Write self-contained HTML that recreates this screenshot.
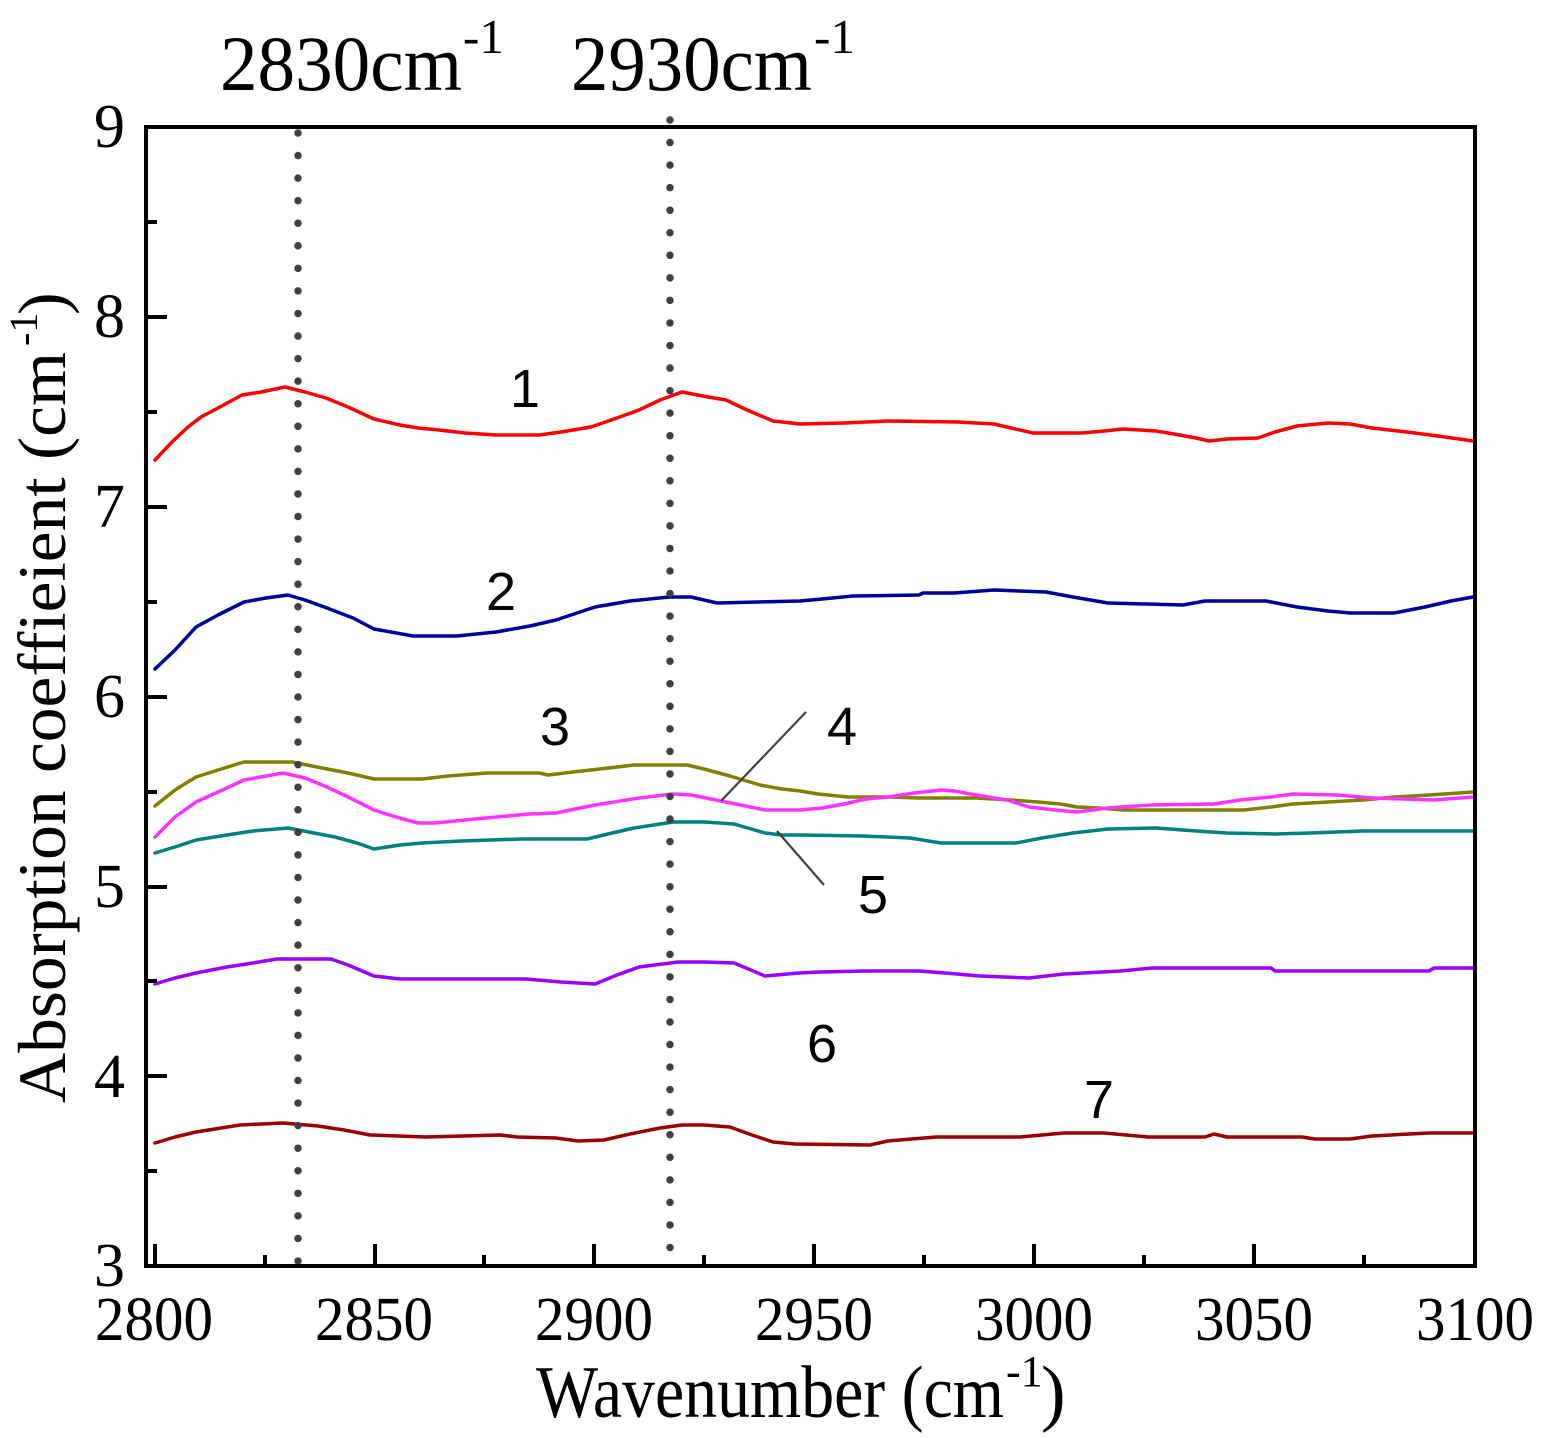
<!DOCTYPE html>
<html>
<head>
<meta charset="utf-8">
<style>
  html, body { margin: 0; padding: 0; background: #ffffff; }
  svg { display: block; }
  .serif { font-family: "Liberation Serif", "Times New Roman", serif; fill: #000; }
  .sans { font-family: "Liberation Sans", Arial, sans-serif; fill: #000; }
  .curve { fill: none; stroke-width: 3.5; stroke-linejoin: round; stroke-linecap: round; }
</style>
</head>
<body>
<svg width="1541" height="1438" viewBox="0 0 1541 1438" xmlns="http://www.w3.org/2000/svg">
  <rect x="0" y="0" width="1541" height="1438" fill="#ffffff"/>

  <!-- Title annotations -->
  <text class="serif" x="220" y="90" font-size="78" textLength="242" lengthAdjust="spacingAndGlyphs">2830cm</text>
  <text class="serif" x="463" y="53" font-size="49">-1</text>
  <text class="serif" x="571" y="90" font-size="78" textLength="241" lengthAdjust="spacingAndGlyphs">2930cm</text>
  <text class="serif" x="814" y="53" font-size="49">-1</text>

  <!-- Curves -->
  <polyline class="curve" stroke="#ff0000" points="155,460 172,442 188,427 201,417 218,408 242,395 261,392 285,387 305,392 326,398 348,407 374,419 400,425 418,428 439,430 465,433 496,435 539,435 561,432 591,427 617,418 639,410 660,400 682,392 708,397 726,400 747,410 773,421 800,424 844,423 888,421 958,422 994,424 1011,428 1033,433 1068,433 1082,433 1104,431 1123,429 1156,431 1174,434 1196,438 1209,441 1227,439 1258,438 1275,432 1297,426 1328,423 1350,424 1372,428 1407,432 1438,436 1473,441"/>
  <polyline class="curve" stroke="#000099" points="155,669 175,650 196,627 218,615 244,602 266,598 288,595 305,600 327,608 353,618 374,629 413,636 457,636 496,632 530,626 556,620 595,607 630,601 669,597 691,597 717,603 800,601 822,599 853,596 919,595 923,593 954,593 994,590 1046,592 1073,597 1108,603 1183,605 1205,601 1266,601 1297,607 1328,611 1350,613 1394,613 1425,607 1451,601 1473,597"/>
  <polyline class="curve" stroke="#808000" points="155,806 175,790 196,777 218,770 244,762 292,762 322,768 348,773 374,779 422,779 448,776 487,773 539,773 548,775 582,771 617,767 634,765 687,765 704,769 730,776 760,785 782,789 800,791 818,794 848,797 888,797 919,798 976,798 1011,800 1038,802 1060,804 1077,807 1099,808 1123,810 1244,810 1271,807 1293,804 1328,802 1363,800 1394,797 1429,795 1473,792"/>
  <polyline class="curve" stroke="#ff33ff" points="155,837 175,817 196,802 218,792 244,780 283,773 305,778 327,787 348,797 374,810 396,817 418,823 435,823 465,820 496,817 530,814 556,813 595,805 639,798 673,794 691,795 721,801 765,810 800,810 822,808 844,804 866,799 888,797 914,793 941,790 954,791 976,795 1007,800 1029,807 1055,810 1077,812 1108,808 1152,805 1214,804 1240,800 1271,797 1293,794 1337,795 1372,798 1434,800 1473,797"/>
  <polyline class="curve" stroke="#008080" points="155,853 175,847 196,840 227,835 253,831 288,828 314,833 335,837 357,843 374,849 400,845 422,843 461,841 522,839 587,839 608,834 634,828 673,822 704,822 734,824 765,833 782,835 800,835 862,836 910,838 941,843 1016,843 1042,838 1073,833 1108,829 1156,828 1196,831 1227,833 1275,834 1310,833 1363,831 1473,831"/>
  <polyline class="curve" stroke="#9900ff" points="155,984 175,978 196,973 227,967 253,963 277,959 331,959 348,965 374,976 400,979 526,979 561,982 595,984 617,975 639,967 678,962 704,962 734,963 765,976 799,973 820,972 866,971 919,971 945,973 980,976 1029,978 1064,974 1121,971 1152,968 1271,968 1275,971 1429,971 1434,968 1473,968"/>
  <polyline class="curve" stroke="#990000" points="155,1143 175,1137 196,1132 240,1125 283,1123 318,1126 344,1130 370,1135 426,1137 500,1135 517,1137 556,1138 578,1141 604,1140 630,1134 660,1128 682,1125 704,1125 730,1127 752,1135 773,1142 795,1144 870,1145 888,1141 936,1137 1020,1137 1064,1133 1104,1133 1148,1137 1205,1137 1214,1134 1227,1137 1302,1137 1315,1139 1350,1139 1372,1136 1429,1133 1473,1133"/>

  <!-- Dotted reference lines -->
  <line x1="298" y1="133" x2="298" y2="1262" stroke="#404040" stroke-width="7.5" stroke-linecap="round" stroke-dasharray="0 22.56"/>
  <line x1="670" y1="120" x2="670" y2="1250" stroke="#404040" stroke-width="7.5" stroke-linecap="round" stroke-dasharray="0 22.55"/>

  <!-- Leader lines -->
  <line x1="721" y1="801" x2="806" y2="712" stroke="#404040" stroke-width="2.2"/>
  <line x1="777" y1="831" x2="824" y2="885" stroke="#404040" stroke-width="2.2"/>

  <!-- Curve labels -->
  <text class="sans" x="525" y="407" font-size="54" text-anchor="middle">1</text>
  <text class="sans" x="501" y="610" font-size="54" text-anchor="middle">2</text>
  <text class="sans" x="555" y="745" font-size="54" text-anchor="middle">3</text>
  <text class="sans" x="842" y="745" font-size="54" text-anchor="middle">4</text>
  <text class="sans" x="873" y="913" font-size="54" text-anchor="middle">5</text>
  <text class="sans" x="822" y="1062" font-size="54" text-anchor="middle">6</text>
  <text class="sans" x="1099" y="1118" font-size="54" text-anchor="middle">7</text>

  <!-- Axes frame -->
  <rect x="146" y="127" width="1329" height="1139" fill="none" stroke="#000" stroke-width="4"/>

  <!-- Y ticks (major integer, minor half) -->
  <g stroke="#000" stroke-width="4">
    <line x1="146" y1="1266" x2="167" y2="1266"/>
    <line x1="146" y1="1171" x2="157" y2="1171"/>
    <line x1="146" y1="1076" x2="167" y2="1076"/>
    <line x1="146" y1="981" x2="157" y2="981"/>
    <line x1="146" y1="887" x2="167" y2="887"/>
    <line x1="146" y1="792" x2="157" y2="792"/>
    <line x1="146" y1="697" x2="167" y2="697"/>
    <line x1="146" y1="602" x2="157" y2="602"/>
    <line x1="146" y1="507" x2="167" y2="507"/>
    <line x1="146" y1="412" x2="157" y2="412"/>
    <line x1="146" y1="317" x2="167" y2="317"/>
    <line x1="146" y1="222" x2="157" y2="222"/>
  </g>

  <!-- X ticks -->
  <g stroke="#000" stroke-width="4">
    <line x1="155" y1="1266" x2="155" y2="1244"/>
    <line x1="265" y1="1266" x2="265" y2="1255"/>
    <line x1="375" y1="1266" x2="375" y2="1244"/>
    <line x1="484" y1="1266" x2="484" y2="1255"/>
    <line x1="594" y1="1266" x2="594" y2="1244"/>
    <line x1="704" y1="1266" x2="704" y2="1255"/>
    <line x1="814" y1="1266" x2="814" y2="1244"/>
    <line x1="924" y1="1266" x2="924" y2="1255"/>
    <line x1="1034" y1="1266" x2="1034" y2="1244"/>
    <line x1="1144" y1="1266" x2="1144" y2="1255"/>
    <line x1="1254" y1="1266" x2="1254" y2="1244"/>
    <line x1="1364" y1="1266" x2="1364" y2="1255"/>
  </g>

  <!-- Y tick labels -->
  <g class="serif" font-size="62" text-anchor="end">
    <text x="125" y="147">9</text>
    <text x="125" y="337">8</text>
    <text x="125" y="527">7</text>
    <text x="125" y="717">6</text>
    <text x="125" y="907">5</text>
    <text x="125" y="1097">4</text>
    <text x="125" y="1286">3</text>
  </g>

  <!-- X tick labels -->
  <g class="serif" font-size="62" text-anchor="middle">
    <text x="154" y="1340" textLength="118" lengthAdjust="spacingAndGlyphs">2800</text>
    <text x="374" y="1340" textLength="118" lengthAdjust="spacingAndGlyphs">2850</text>
    <text x="594" y="1340" textLength="118" lengthAdjust="spacingAndGlyphs">2900</text>
    <text x="814" y="1340" textLength="118" lengthAdjust="spacingAndGlyphs">2950</text>
    <text x="1034" y="1340" textLength="118" lengthAdjust="spacingAndGlyphs">3000</text>
    <text x="1254" y="1340" textLength="118" lengthAdjust="spacingAndGlyphs">3050</text>
    <text x="1475" y="1340" textLength="118" lengthAdjust="spacingAndGlyphs">3100</text>
  </g>

  <!-- X axis title -->
  <text class="serif" x="536" y="1417" font-size="74" textLength="468" lengthAdjust="spacingAndGlyphs">Wavenumber (cm</text>
  <text class="serif" x="1006" y="1386" font-size="44">-1</text>
  <text class="serif" x="1041" y="1417" font-size="74">)</text>

  <!-- Y axis title -->
  <g transform="translate(65,1103) rotate(-90)">
    <text class="serif" x="0" y="0" font-size="68" textLength="751" lengthAdjust="spacingAndGlyphs">Absorption coeffieient (cm</text>
    <text class="serif" x="757" y="-28" font-size="40">-1</text>
    <text class="serif" x="788" y="0" font-size="68">)</text>
  </g>
</svg>
</body>
</html>
